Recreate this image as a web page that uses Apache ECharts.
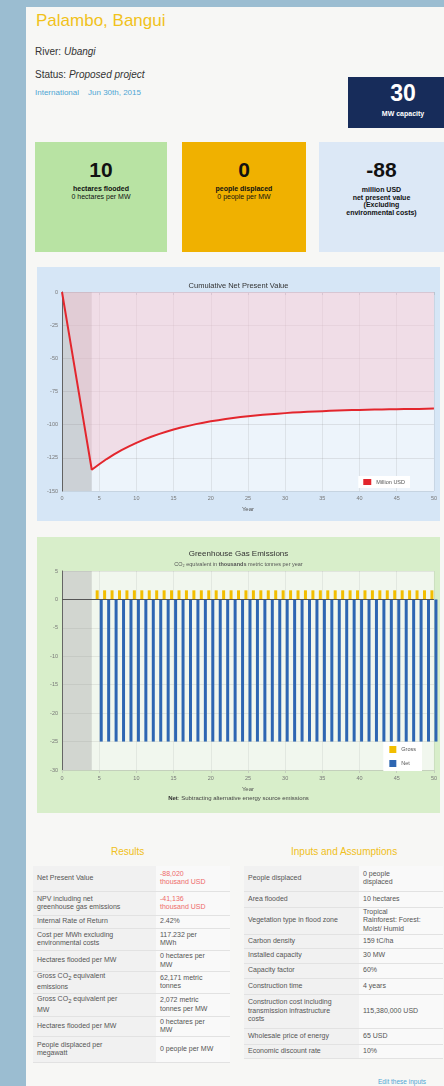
<!DOCTYPE html>
<html><head><meta charset="utf-8">
<script src="https://cdn.jsdelivr.net/npm/echarts@6/dist/echarts.min.js"></script>
<style>
html,body{margin:0;padding:0;}
body{width:444px;height:1086px;background:#9bbdd1;position:relative;overflow:hidden;font-family:"Liberation Sans",Arial,sans-serif;color:#444;}
.abs{position:absolute;}
#page{left:26px;top:7px;width:418px;height:1079px;background:#f7f7f5;}
#title{left:36px;top:11px;font-size:17px;color:#f1c21b;white-space:nowrap;}
.meta{left:35px;font-size:10px;color:#333;white-space:nowrap;}
.meta i{color:#333;}
#link{left:35px;top:88px;font-size:8px;color:#4fa6d4;white-space:nowrap;}
#cap{left:348px;top:77px;width:110px;height:51px;background:#172c5a;color:#fff;text-align:center;}
#cap .n{font-size:23px;font-weight:bold;line-height:23px;margin-top:5px;}
#cap .l{font-size:7px;font-weight:bold;margin-top:5px;}
.box{top:142px;height:110px;text-align:center;color:#111;}
.box .n{font-size:21px;font-weight:bold;line-height:20px;margin-top:18px;}
.box .l{font-size:7px;line-height:7.5px;}
#c1{left:37px;top:267px;width:403px;height:254px;}
#c2{left:37px;top:537px;width:403px;height:276px;}
.h{font-size:10px;color:#f0c020;top:846px;white-space:nowrap;}
.tbl{position:absolute;border-collapse:collapse;font-size:7px;color:#555;}
.tbl td{vertical-align:middle;line-height:8.5px;border-bottom:1px solid #e2e2e2;}
.tbl td.lab{background:#f1f1f1;}
.tbl td.val{background:#f9f9f9;white-space:nowrap;}
#t1 td.lab{padding:0 27px 0 4px;width:92px;}
#t1 td.val{padding:0 15px 0 4px;width:55px;}
#t2 td.lab{padding:0 19px 0 4px;width:92px;}
#t2 td.val{padding:0 20px 0 4px;width:60px;}
.red{color:#ee6a6a;}
#edit{left:378px;top:1078px;font-size:6.5px;color:#4fa6d4;white-space:nowrap;}
</style>
</head><body>
<div id="page" class="abs"></div>
<div id="title" class="abs">Palambo, Bangui</div>
<div class="abs meta" style="top:46px">River: <i>Ubangi</i></div>
<div class="abs meta" style="top:69px">Status: <i>Proposed project</i></div>
<div id="link" class="abs">International<span style="margin-left:9px">Jun 30th, 2015</span></div>
<div id="cap" class="abs"><div class="n">30</div><div class="l">MW capacity</div></div>
<div class="abs box" style="left:35px;width:132px;background:#b8e3a3"><div class="n">10</div><div class="l" style="margin-top:5px"><b>hectares flooded</b><br>0 hectares per MW</div></div>
<div class="abs box" style="left:182px;width:124px;background:#f0b100"><div class="n">0</div><div class="l" style="margin-top:5px"><b>people displaced</b><br>0 people per MW</div></div>
<div class="abs box" style="left:319px;width:125px;background:#dce8f6"><div class="n">-88</div><div class="l" style="margin-top:6px"><b>million USD<br>net present value<br>(Excluding<br>environmental costs)</b></div></div>
<div id="c1" class="abs"></div>
<div id="c2" class="abs"></div>
<div class="abs h" style="left:111px">Results</div>
<div class="abs h" style="left:291px">Inputs and Assumptions</div>
<table id="t1" class="tbl" style="left:33px;top:866px;"></table>
<table id="t2" class="tbl" style="left:244px;top:866px;"></table>
<div id="edit" class="abs">Edit these inputs</div>
<script>
// ---------- data ----------
const npvYears = [0,1,2,3,4,5,6,7,8,9,10,11,12,13,14,15,16,17,18,19,20,21,22,23,24,25,26,27,28,29,30,31,32,33,34,35,36,37,38,39,40,41,42,43,44,45,46,47,48,49,50];
const npvValues = [0,-33.5,-67,-100.5,-134,-129.8,-125.9,-122.4,-119.2,-116.3,-113.7,-111.3,-109.1,-107.1,-105.3,-103.7,-102.2,-100.9,-99.6,-98.5,-97.5,-96.6,-95.7,-95.0,-94.3,-93.7,-93.1,-92.6,-92.1,-91.7,-91.3,-90.9,-90.6,-90.3,-90.0,-89.8,-89.6,-89.4,-89.2,-89.0,-88.9,-88.7,-88.6,-88.5,-88.4,-88.3,-88.2,-88.1,-88.1,-88.0,-87.9];
const ghgYears = [5,6,7,8,9,10,11,12,13,14,15,16,17,18,19,20,21,22,23,24,25,26,27,28,29,30,31,32,33,34,35,36,37,38,39,40,41,42,43,44,45,46,47,48,49,50];
const grossValues = [1.6,1.6,1.6,1.6,1.6,1.6,1.6,1.6,1.6,1.6,1.6,1.6,1.6,1.6,1.6,1.6,1.6,1.6,1.6,1.6,1.6,1.6,1.6,1.6,1.6,1.6,1.6,1.6,1.6,1.6,1.6,1.6,1.6,1.6,1.6,1.6,1.6,1.6,1.6,1.6,1.6,1.6,1.6,1.6,1.6,1.6];
const netValues = [-25,-25,-25,-25,-25,-25,-25,-25,-25,-25,-25,-25,-25,-25,-25,-25,-25,-25,-25,-25,-25,-25,-25,-25,-25,-25,-25,-25,-25,-25,-25,-25,-25,-25,-25,-25,-25,-25,-25,-25,-25,-25,-25,-25,-25,-25];
const constructionYears = [0, 4];
const resultLabels = ["Net Present Value","NPV including net greenhouse gas emissions","Internal Rate of Return","Cost per MWh excluding environmental costs","Hectares flooded per MW","Gross CO<sub>2</sub> equivalent emissions","Gross CO<sub>2</sub> equivalent per MW","Hectares flooded per MW","People displaced per megawatt"];
const resultValues = ["-88,020<br>thousand USD","-41,136<br>thousand USD","2.42%","117.232 per<br>MWh","0 hectares per<br>MW","62,171 metric<br>tonnes","2,072 metric<br>tonnes per MW","0 hectares per<br>MW","0 people per MW"];
const inputLabels = ["People displaced","Area flooded","Vegetation type in flood zone","Carbon density","Installed capacity","Capacity factor","Construction time","Construction cost including transmission infrastructure costs","Wholesale price of energy","Economic discount rate"];
const inputValues = ["0 people<br>displaced","10 hectares","Tropical<br>Rainforest: Forest:<br>Moist/ Humid","159 tC/ha","30 MW","60%","4 years","115,380,000 USD","65 USD","10%"];

// ---------- tables ----------
const leftH = [25,24,13,22,21,22,23,20,26];
const rightH = [25,16,27,14,15,15,16,34,16,14];
function fill(id, labs, vals, hs, redRows){
  const t = document.getElementById(id);
  labs.forEach((l,i)=>{
    const tr = document.createElement('tr');
    tr.style.height = hs[i]+'px';
    tr.innerHTML = '<td class="lab">'+l+'</td><td class="val'+(redRows.includes(i)?' red':'')+'">'+vals[i]+'</td>';
    t.appendChild(tr);
  });
}
fill('t1', resultLabels, resultValues, leftH, [0,1]);
fill('t2', inputLabels, inputValues, rightH, []);

const font = '"Liberation Sans", Arial, sans-serif';
// ---------- chart 1 ----------
const c1 = echarts.init(document.getElementById('c1'));
c1.setOption({
  animation:false,
  backgroundColor:'#d6e6f6',
  textStyle:{fontFamily:font},
  title:{text:'Cumulative Net Present Value',left:'center',top:10,textStyle:{fontSize:7.5,fontWeight:'normal',color:'#333'}},
  legend:{right:30,bottom:33,orient:'vertical',backgroundColor:'#ffffff',padding:[3,5],itemWidth:8,itemHeight:6,itemGap:4,
    textStyle:{fontSize:5.5,color:'#555'},data:[{name:'Million USD',icon:'rect'}]},
  grid:{left:25,right:2,top:25,bottom:30,show:true,backgroundColor:'#edf4fb',borderWidth:0},
  xAxis:{type:'value',min:0,max:50,interval:5,name:'Year',nameLocation:'middle',nameGap:12,
    nameTextStyle:{fontSize:6,color:'#555'},
    axisLine:{lineStyle:{color:'#b8c4d0'}},axisTick:{show:true,length:3,lineStyle:{color:'#b8c4d0'}},
    axisLabel:{fontSize:5.5,color:'#777',margin:4},
    splitLine:{show:true,lineStyle:{color:'rgba(120,120,120,0.14)'}}},
  yAxis:{type:'value',min:-150,max:0,interval:25,
    axisLine:{show:true,lineStyle:{color:'#555',width:1}},axisTick:{show:false},
    axisLabel:{fontSize:5.5,color:'#777',margin:4},
    splitLine:{show:true,lineStyle:{color:'rgba(120,120,120,0.16)'}}},
  series:[{name:'Million USD',type:'line',symbol:'none',
    data:npvYears.map((y,i)=>[y,npvValues[i]]),
    itemStyle:{color:'#e3262d'},
    lineStyle:{color:'#e3262d',width:2},
    areaStyle:{color:'rgba(244,200,214,0.75)'},
    markArea:{silent:true,itemStyle:{color:'rgba(130,130,130,0.3)'},data:[[{xAxis:constructionYears[0]},{xAxis:constructionYears[1]}]]}
  }]
});

// ---------- chart 2 ----------
const c2 = echarts.init(document.getElementById('c2'));
c2.setOption({
  animation:false,
  backgroundColor:'#d8eeca',
  textStyle:{fontFamily:font},
  title:[{text:'Greenhouse Gas Emissions',subtext:'CO₂ equivalent in {b|thousands} metric tonnes per year',left:'center',top:8,itemGap:3,
    textStyle:{fontSize:8,fontWeight:'normal',color:'#333'},
    subtextStyle:{fontSize:5.5,color:'#555',rich:{b:{fontSize:5.5,fontWeight:'bold',color:'#555'}}}},
    {text:'{b|Net}: Subtracting alternative energy source emissions',left:'center',bottom:7,
    textStyle:{fontSize:6,fontWeight:'normal',color:'#444',rich:{b:{fontSize:6,fontWeight:'bold',color:'#333'}}}}],
  legend:{right:18,bottom:42,orient:'vertical',backgroundColor:'#ffffff',padding:[4,6],itemWidth:7,itemHeight:7,itemGap:7,
    textStyle:{fontSize:5.5,color:'#555'},data:[{name:'Gross',icon:'rect'},{name:'Net',icon:'rect'}]},
  grid:{left:25,right:2,top:34,bottom:43,show:true,backgroundColor:'#f1f7ee',borderWidth:0},
  xAxis:{type:'value',min:0,max:50,interval:5,name:'Year',nameLocation:'middle',nameGap:11,
    nameTextStyle:{fontSize:6,color:'#555'},
    axisLine:{onZero:false,lineStyle:{color:'#c4d0bc'}},axisTick:{show:true,length:3,lineStyle:{color:'#c4d0bc'}},
    axisLabel:{fontSize:5.5,color:'#777',margin:5},
    splitLine:{show:true,lineStyle:{color:'rgba(120,120,120,0.12)'}}},
  yAxis:{type:'value',min:-30,max:5,interval:5,
    axisLine:{show:true,lineStyle:{color:'#555',width:1}},axisTick:{show:false},
    axisLabel:{fontSize:5.5,color:'#777',margin:4},
    splitLine:{show:true,lineStyle:{color:'rgba(120,120,120,0.14)'}}},
  series:[
    {name:'Gross',type:'bar',barWidth:3,barGap:'35%',data:ghgYears.map((y,i)=>[y,grossValues[i]]),itemStyle:{color:'#f2be00'},
     markArea:{silent:true,itemStyle:{color:'rgba(140,140,140,0.3)'},data:[[{xAxis:constructionYears[0]},{xAxis:constructionYears[1]}]]},
     markLine:{silent:true,symbol:'none',label:{show:false},lineStyle:{color:'#555',type:'solid',width:1},data:[{yAxis:0}]}},
    {name:'Net',type:'bar',barWidth:3,data:ghgYears.map((y,i)=>[y,netValues[i]]),itemStyle:{color:'#2e66b2'}}
  ]
});
</script>
</body></html>
